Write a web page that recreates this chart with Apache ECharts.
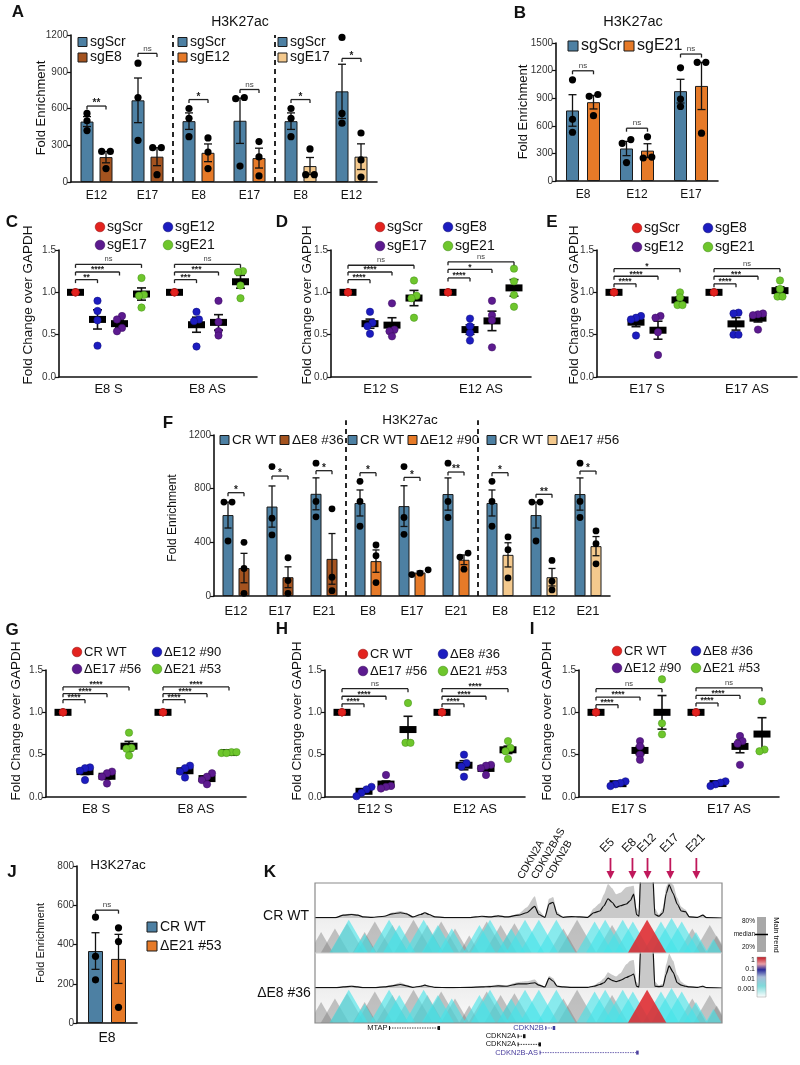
<!DOCTYPE html>
<html><head><meta charset="utf-8">
<script src="https://cdn.jsdelivr.net/npm/echarts@6/dist/echarts.min.js"></script>
<style>html,body{margin:0;padding:0;background:#fff}#c{width:800px;height:1065px}</style>
</head><body><div id="c"></div>
<script>
// ===================== DATA =====================
// Panel A
const A_cats = ['E12','E17','E8','E17','E8','E12'];
const A_yTicks = [0,300,600,900,1200];
const A_sgScr = [[560,500,420],[970,690,340],[600,520,370],[690,680,130],[600,520,370],[1180,560,480]];
const A_sgKO  = [[250,250,110],[280,280,60],[360,245,110],[330,205,50],[270,60,60],[400,180,40]];
const A_sig = ['**','ns','*','ns','*','*'];
const A_sigY = [620,1050,673,755,673,1009];
const A_koNames = ['sgE8','sgE12','sgE17'];
// Panel B
const B_cats = ['E8','E12','E17'];
const B_yTicks = [0,300,600,900,1200,1500];
const B_sgScr = [[1100,670,530],[450,410,200],[1230,890,810]];
const B_sgE21 = [[940,920,710],[480,260,250],[1290,1290,520]];
const B_sig = ['ns','ns','ns'];
const B_sigY = [1198,574,1380];
// Dot plots common
const DOT_yTicks = [0,0.5,1.0,1.5];
// Panel C
const C_cats = ['E8 S','E8 AS'];
const C_names = ['sgScr','sgE12','sgE17','sgE21'];
const C_sgScr = [[1,1,1,1],[1,1,1,1]];
const C_sgE12 = [[0.90,0.78,0.67,0.37],[0.77,0.68,0.66,0.36]];
const C_sgE17 = [[0.72,0.68,0.58,0.54],[0.90,0.65,0.54,0.49]];
const C_sgE21 = [[1.17,0.97,0.96,0.82],[1.25,1.24,1.08,0.93]];
const C_sig = [['**','****','ns'],['***','***','ns']];
const C_sigY = [[1.15,1.24,1.33],[1.15,1.24,1.33]];
// Panel D
const D_cats = ['E12 S','E12 AS'];
const D_names = ['sgScr','sgE8','sgE17','sgE21'];
const D_sgScr = [[1,1,1,1],[1,1,1,1]];
const D_sgE8  = [[0.77,0.64,0.60,0.51],[0.69,0.60,0.52,0.43]];
const D_sgE17 = [[0.87,0.56,0.54,0.48],[0.90,0.73,0.67,0.35]];
const D_sgE21 = [[1.14,0.96,0.93,0.70],[1.28,1.13,0.97,0.83]];
const D_sig = [['****','****','ns'],['****','*','ns']];
const D_sigY = [[1.15,1.24,1.32],[1.17,1.27,1.36]];
// Panel E
const E_cats = ['E17 S','E17 AS'];
const E_names = ['sgScr','sgE8','sgE12','sgE21'];
const E_sgScr = [[1,1,1,1],[1,1,1,1]];
const E_sgE8  = [[0.72,0.70,0.68,0.49],[0.76,0.75,0.50,0.50]];
const E_sgE12 = [[0.72,0.70,0.53,0.26],[0.75,0.74,0.73,0.56]];
const E_sgE21 = [[1.00,0.94,0.85,0.85],[1.14,1.04,0.95,0.95]];
const E_sig = [['****','****','*'],['****','***','ns']];
const E_sigY = [[1.10,1.19,1.28],[1.10,1.19,1.28]];
// Panel F
const F_cats = ['E12','E17','E21','E8','E17','E21','E8','E12','E21'];
const F_yTicks = [0,400,800,1200];
const F_crWT = [[700,700,410],[965,580,455],[990,705,590],[855,705,520],[965,585,460],[990,705,585],[855,705,520],[700,700,410],[990,705,585]];
const F_del  = [[400,205,20],[285,115,20],[650,140,40],[380,300,100],[195,170,160],[320,290,200],[440,345,135],[265,110,45],[485,390,240]];
const F_sig = ['*','*','*','*','*','**','*','**','*'];
const F_sigY = [770,894,934,919,884,924,919,758,931];
const F_delNames = ['\u0394E8 #36','\u0394E12 #90','\u0394E17 #56'];
// Panel G
const G_cats = ['E8 S','E8 AS'];
const G_names = ['CR WT','\u0394E12 #90','\u0394E17 #56','\u0394E21 #53'];
const G_crWT = [[1,1,1,1],[1,1,1,1]];
const G_dE12 = [[0.35,0.34,0.31,0.20],[0.37,0.34,0.30,0.23]];
const G_dE17 = [[0.30,0.28,0.24,0.16],[0.28,0.24,0.20,0.15]];
const G_dE21 = [[0.76,0.58,0.57,0.49],[0.53,0.53,0.52,0.52]];
const G_sig = [['****','****','****'],['****','****','****']];
const G_sigY = [[1.15,1.22,1.30],[1.15,1.22,1.30]];
// Panel H
const H_cats = ['E12 S','E12 AS'];
const H_names = ['CR WT','\u0394E8 #36','\u0394E17 #56','\u0394E21 #53'];
const H_crWT = [[1,1,1,1],[1,1,1,1]];
const H_dE8  = [[0.12,0.09,0.05,0.01],[0.50,0.40,0.36,0.24]];
const H_dE17 = [[0.26,0.13,0.12,0.10],[0.38,0.37,0.34,0.26]];
const H_dE21 = [[1.11,0.64,0.64],[0.66,0.58,0.54,0.45]];
const H_sig = [['****','****','ns'],['****','****','****']];
const H_sigY = [[1.10,1.19,1.28],[1.10,1.19,1.28]];
// Panel I
const I_cats = ['E17 S','E17 AS'];
const I_names = ['CR WT','\u0394E8 #36','\u0394E12 #90','\u0394E21 #53'];
const I_crWT = [[1,1,1,1],[1,1,1,1]];
const I_dE8  = [[0.185,0.165,0.15,0.13],[0.185,0.17,0.15,0.13]];
const I_dE12 = [[0.66,0.60,0.50,0.44],[0.72,0.66,0.63,0.38]];
const I_dE21 = [[1.39,0.87,0.74],[1.13,0.56,0.54]];
const I_sig = [['****','****','ns'],['****','****','ns']];
const I_sigY = [[1.09,1.18,1.28],[1.11,1.20,1.29]];
// Panel J
const J_cats = ['E8'];
const J_yTicks = [0,200,400,600,800];
const J_crWT = [[540,340,220]];
const J_dE21 = [[485,415,80]];
const J_sig = ['ns'];
const J_sigY = [575];
// Panel K (x in % of locus window, signal in fraction of track height)
const K_pos = [0,5,7,9,10.5,12,14,17,19,21,22.5,24,26,27,28,29.5,33,38,41,43,45,47,50,52,54,55,56.5,57.5,58.5,59.5,61,63,65,67,68.5,70,71,72,73,74,75,76.5,77.5,78.3,79,79.6,80,83,83.5,84.5,85.5,86.3,87,88,89,90,91,92,94,95.3,96.2,100];
const K_wtLine = [0.01,0.01,0.08,0.10,0.08, 0.03,0.02,0.05,0.12,0.15, 0.12,0.03,0.10,0.15,0.10, 0.03,0.01,0.01,0.05,0.03, 0.06,0.03,0.08,0.15,0.33, 0.10,0.02,0.40,0.45,0.10, 0.02,0.04,0.03,0.02,0.15, 0.20,0.35,0.55,0.45,0.30, 0.35,0.40,0.50,0.68,0.10, 0.05,1.20,1.20,0.10,0.05, 0.15,0.70,0.95,0.70,0.40, 0.20,0.18,0.03,0.02,0.08, 0.01,0.00];
const K_wtBand = [0.01,0.01,0.10,0.13,0.10, 0.03,0.02,0.06,0.16,0.20, 0.15,0.04,0.13,0.18,0.12, 0.03,0.01,0.01,0.06,0.04, 0.07,0.04,0.12,0.30,0.62, 0.22,0.04,0.55,0.60,0.18, 0.03,0.05,0.04,0.03,0.28, 0.42,0.68,0.97,0.85,0.68, 0.72,0.88,0.90,0.92,0.28, 0.20,1.30,1.30,0.28,0.10, 0.28,0.90,1.05,0.95,0.58, 0.32,0.24,0.05,0.03,0.10, 0.01,0.00];
const K_deLine = [0.01,0.01,0.03,0.05,0.03, 0.01,0.01,0.03,0.06,0.10, 0.06,0.02,0.05,0.08,0.05, 0.02,0.01,0.02,0.03,0.04, 0.06,0.05,0.12,0.12,0.15, 0.08,0.03,0.28,0.20,0.05, 0.03,0.02,0.02,0.02,0.05, 0.10,0.15,0.28,0.22,0.18, 0.22,0.30,0.35,0.40,0.05, 0.03,1.20,1.20,0.05,0.04, 0.05,0.40,0.63,0.45,0.15, 0.08,0.05,0.03,0.02,0.05, 0.01,0.00];
const K_deBand = [0.01,0.01,0.05,0.07,0.05, 0.02,0.01,0.04,0.09,0.16, 0.09,0.03,0.07,0.11,0.07, 0.03,0.01,0.03,0.05,0.07, 0.09,0.08,0.17,0.19,0.24, 0.12,0.04,0.34,0.28,0.08, 0.04,0.03,0.03,0.03,0.08, 0.18,0.28,0.45,0.38,0.33, 0.42,0.68,0.78,0.80,0.18, 0.08,1.30,1.30,0.18,0.08, 0.12,0.68,0.98,0.78,0.38, 0.18,0.10,0.05,0.03,0.08, 0.01,0.00];
const K_triGrey = [[1.5,0.6],[4.9,0.7],[7.9,0.85],[12.2,0.6],[14.7,0.9],[19,0.8],[24.2,0.95],[27.6,0.8],[31,0.9],[34.4,0.7],[37.9,0.5],[42.2,0.9],[45.6,0.8],[49,0.85],[61,0.7],[64.4,0.95],[73,0.8],[92.7,0.7],[97,0.8],[98.7,0.5]];
const K_triCyan = [[8.3,0.95],[12.2,0.55],[18.2,0.95],[20.7,0.8],[26.7,0.95],[30.2,0.8],[33.6,0.7],[40.4,0.8],[43,0.95],[48.2,0.7],[51.6,0.95],[55,0.95],[59.3,0.95],[68.7,0.9],[71.3,0.95],[75.6,0.95],[78.1,0.9],[85,0.9],[87.6,1],[90.1,0.9],[93.6,0.6],[97.9,0.4]];
const K_triRed = [[81.6,0.95]];
const K_enh = ['E5','E8','E12','E17','E21'];
const K_enhPos = [72.6,78,81.7,87.3,93.7];
const K_topGenes = ['CDKN2A','CDKN2BAS','CDKN2B'];
const K_topGenePos = [51.6,55.0,58.5];
const K_genes = ['MTAP','CDKN2B','CDKN2A','CDKN2A','CDKN2B-AS'];
const K_geneStart = [18.3,56.7,49.9,49.9,55.3];
const K_geneEnd = [30.6,58.9,51.6,55.4,79.4];
const K_geneRow = [0,0,1,2,3];
const K_tracks = ['CR WT','\u0394E8 #36'];

// ===================== STYLE / BUILDERS =====================
const FONT = 'Liberation Sans, Arial, Helvetica, sans-serif';
const BLUE='#4d80a3', BROWN='#a4531f', ORANGE='#e67a28', TAN='#f4c98d';
const DOTC = ['#e3231f','#1c1cc0','#5c1a8f','#6ec62c'];
const DOTS = ['#9a1212','#10107a','#3a0c60','#449018'];
const K_geneColors = ['#111','#3b3b9e','#111','#111','#4b3f9e'];
const grids=[], xAxes=[], yAxes=[], series=[], graphics=[];

function mean(a){return a.reduce((s,v)=>s+v,0)/a.length;}
function sem(a){const m=mean(a),n=a.length;if(n<2)return 0;return Math.sqrt(a.reduce((s,x)=>s+(x-m)*(x-m),0)/(n-1)/n);}
function jitter(a,thr,dx){
  const out=a.map(()=>0);
  if(a.every(v=>v===a[0])) return out;
  const idx=a.map((v,i)=>i).sort((i,j)=>a[i]-a[j]);
  let grp=[idx[0]];
  const flush=()=>{const m=grp.length;grp.forEach((ii,k)=>{out[ii]=(k-(m-1)/2)*dx;});};
  for(let k=1;k<idx.length;k++){
    if(Math.abs(a[idx[k]]-a[grp[grp.length-1]])<thr) grp.push(idx[k]); else {flush();grp=[idx[k]];}
  }
  flush(); return out;
}
function addCoord(rect,xa,ya){const gi=grids.length;grids.push(rect);xa.gridIndex=gi;ya.gridIndex=gi;xAxes.push(xa);yAxes.push(ya);return gi;}
function catAxis(cats,fs,margin){return {type:'category',data:cats,boundaryGap:true,
  axisLine:{lineStyle:{color:'#111',width:1.6}},axisTick:{alignWithLabel:true,length:5,lineStyle:{color:'#111',width:1.6}},
  axisLabel:{color:'#111',fontSize:fs,fontFamily:FONT,margin:margin,interval:0},splitLine:{show:false}};}
function valAxis(ticks,fs,fmt){return {type:'value',min:ticks[0],max:ticks[ticks.length-1],interval:ticks[1]-ticks[0],
  axisLine:{show:true,lineStyle:{color:'#111',width:1.6}},axisTick:{show:true,length:4,lineStyle:{color:'#111',width:1.2}},
  axisLabel:{color:'#333',fontSize:fs,fontFamily:FONT,margin:3,formatter:fmt||(v=>String(v))},splitLine:{show:false}};}
function txt(x,y,text,o){o=o||{};graphics.push({type:'text',x:x,y:y,rotation:o.rot||0,z:50,
  style:{text:text,fontSize:o.fs||13,fontFamily:FONT,fontWeight:o.fw||'normal',fill:o.fill||'#111',align:o.align||'center',verticalAlign:o.va||'middle'}});}
function sqLegend(x,y,color,text,fs,sz){sz=sz||10;graphics.push({type:'rect',z:50,shape:{x:x,y:y-sz/2,width:sz,height:sz},style:{fill:color,stroke:'#1a1a1a',lineWidth:1}});
  txt(x+sz+3,y,text,{fs:fs,align:'left'});}
function dotLegend(x,y,s,text,fs){graphics.push({type:'circle',z:50,shape:{cx:x,cy:y,r:4.8},style:{fill:DOTC[s],stroke:DOTS[s],lineWidth:0.6}});
  txt(x+7,y,text,{fs:fs,align:'left'});}
function bracketEls(xa,xb,py,label,fsStar,fsNs){
  return [
    {type:'line',shape:{x1:xa,y1:py,x2:xb,y2:py},style:{stroke:'#222',lineWidth:1.3}},
    {type:'line',shape:{x1:xa,y1:py,x2:xa,y2:py+3.5},style:{stroke:'#222',lineWidth:1.3}},
    {type:'line',shape:{x1:xb,y1:py,x2:xb,y2:py+3.5},style:{stroke:'#222',lineWidth:1.3}},
    {type:'text',x:(xa+xb)/2,y:label==='ns'?py-1:py+2.5,style:{text:label,fontSize:label==='ns'?fsNs:fsStar,fontWeight:label==='ns'?'normal':'bold',fontFamily:FONT,fill:label==='ns'?'#444':'#222',align:'center',verticalAlign:'bottom'}}
  ];
}

function barPanel(cfg){
  const gi=addCoord(cfg.grid,catAxis(cfg.cats,cfg.xfs,cfg.xmargin),valAxis(cfg.ticks,cfg.yfs));
  const half=(cfg.barW+cfg.gap)/2, ymax=cfg.ticks[cfg.ticks.length-1];
  series.push({type:'bar',name:cfg.n0,xAxisIndex:gi,yAxisIndex:gi,data:cfg.p0.map(mean),barWidth:cfg.barW,
    barGap:(cfg.gap/cfg.barW*100)+'%',itemStyle:{color:BLUE,borderColor:'#1a1a1a',borderWidth:1},z:2,silent:true});
  series.push({type:'bar',name:cfg.n1,xAxisIndex:gi,yAxisIndex:gi,data:cfg.p1.map((p,i)=>({value:mean(p),itemStyle:{color:cfg.c1[i]}})),
    barWidth:cfg.barW,itemStyle:{borderColor:'#1a1a1a',borderWidth:1},z:2,silent:true});
  const items=[];[cfg.p0,cfg.p1].forEach((P,s)=>P.forEach((pts,c)=>items.push({c:c,s:s,pts:pts})));
  series.push({type:'custom',xAxisIndex:gi,yAxisIndex:gi,z:5,clip:false,silent:true,data:items.map(it=>[it.c,mean(it.pts)]),
    renderItem:function(p,api){
      const it=items[p.dataIndex],m=mean(it.pts),e=sem(it.pts);
      const cx=api.coord([it.c,0])[0]+(it.s?half:-half);
      const yt=api.coord([it.c,m+e])[1],yb=api.coord([it.c,Math.max(0,m-e)])[1],cap=cfg.cap;
      const ch=[{type:'line',shape:{x1:cx,y1:yt,x2:cx,y2:yb},style:{stroke:'#111',lineWidth:1.3}},
        {type:'line',shape:{x1:cx-cap,y1:yt,x2:cx+cap,y2:yt},style:{stroke:'#111',lineWidth:1.3}},
        {type:'line',shape:{x1:cx-cap,y1:yb,x2:cx+cap,y2:yb},style:{stroke:'#111',lineWidth:1.3}}];
      const offs=jitter(it.pts,ymax*0.035,cfg.dotR*2.4);
      it.pts.forEach((v,k)=>ch.push({type:'circle',shape:{cx:cx+offs[k],cy:api.coord([it.c,v])[1],r:cfg.dotR},style:{fill:'#000'}}));
      return {type:'group',children:ch};
    }});
  series.push({type:'custom',xAxisIndex:gi,yAxisIndex:gi,z:6,clip:false,silent:true,data:cfg.sigY.map((y,c)=>[c,y]),
    renderItem:function(p,api){const c=p.dataIndex,pt=api.coord([c,cfg.sigY[c]]);
      return {type:'group',children:bracketEls(pt[0]-half,pt[0]+half,pt[1],cfg.sig[c],cfg.fsStar,cfg.fsNs)};}});
  if(cfg.seps){
    series.push({type:'custom',xAxisIndex:gi,yAxisIndex:gi,z:6,clip:false,silent:true,data:cfg.seps.map(s=>[s,0]),
      renderItem:function(p,api){const s=cfg.seps[p.dataIndex];
        const x=(api.coord([s,0])[0]+api.coord([s+1,0])[0])/2;
        const y0=api.coord([s,0])[1],y1=api.coord([s,cfg.sepTop])[1];
        return {type:'line',shape:{x1:x,y1:y0,x2:x,y2:y1},style:{stroke:'#111',lineWidth:1.8,lineDash:[5,4]}};}});
  }
  return gi;
}

const OFFS=[-33,-11,11,33];
function dotPanel(cfg){
  const gi=addCoord(cfg.grid,catAxis(cfg.cats,13,6),valAxis(DOT_yTicks,10,v=>v.toFixed(1)));
  const items=[];cfg.subs.forEach((S,s)=>S.forEach((pts,g)=>items.push({g:g,s:s,pts:pts})));
  series.push({type:'custom',xAxisIndex:gi,yAxisIndex:gi,z:3,clip:false,silent:true,data:items.map(it=>[it.g,mean(it.pts)]),
    renderItem:function(p,api){
      const it=items[p.dataIndex],m=mean(it.pts),e=sem(it.pts);
      const cx=api.coord([it.g,0])[0]+OFFS[it.s],cy=api.coord([it.g,m])[1];
      const yt=api.coord([it.g,m+e])[1],yb=api.coord([it.g,m-e])[1];
      return {type:'group',children:[
        {type:'line',shape:{x1:cx,y1:yt,x2:cx,y2:yb},style:{stroke:'#111',lineWidth:1.6}},
        {type:'line',shape:{x1:cx-4.5,y1:yt,x2:cx+4.5,y2:yt},style:{stroke:'#111',lineWidth:1.6}},
        {type:'line',shape:{x1:cx-4.5,y1:yb,x2:cx+4.5,y2:yb},style:{stroke:'#111',lineWidth:1.6}},
        {type:'rect',shape:{x:cx-8.5,y:cy-3.5,width:17,height:7},style:{fill:'#000'}}]};
    }});
  cfg.subs.forEach((S,s)=>{
    const pts=[];S.forEach((arr,g)=>{const o=jitter(arr,0.045,5);arr.forEach((v,k)=>pts.push([g,v,o[k]]));});
    series.push({type:'custom',name:cfg.names[s],xAxisIndex:gi,yAxisIndex:gi,z:4,clip:false,silent:true,data:pts,
      renderItem:function(p,api){const d=pts[p.dataIndex],c=api.coord([d[0],d[1]]);
        return {type:'circle',shape:{cx:c[0]+OFFS[s]+d[2],cy:c[1],r:3.7},style:{fill:DOTC[s],stroke:DOTS[s],lineWidth:0.5}};}});
  });
  const br=[];cfg.sigY.forEach((ys,g)=>ys.forEach((y,k)=>br.push([g,y,k])));
  series.push({type:'custom',xAxisIndex:gi,yAxisIndex:gi,z:6,clip:false,silent:true,data:br,
    renderItem:function(p,api){const d=br[p.dataIndex],pt=api.coord([d[0],d[1]]);
      return {type:'group',children:bracketEls(pt[0]+OFFS[0],pt[0]+OFFS[d[2]+1],pt[1],cfg.sig[d[0]][d[2]],8.5,7.5)};}});
  const L=cfg.leg;
  dotLegend(L[0],L[2],0,cfg.names[0],cfg.lfs);dotLegend(L[1],L[2],1,cfg.names[1],cfg.lfs);
  dotLegend(L[0],L[3],2,cfg.names[2],cfg.lfs);dotLegend(L[1],L[3],3,cfg.names[3],cfg.lfs);
  return gi;
}

// ===================== PANELS =====================
// A
barPanel({grid:{left:71,top:35,width:306,height:147},cats:A_cats,ticks:A_yTicks,p0:A_sgScr,p1:A_sgKO,n0:'sgScr',n1:'sgKO',
  c1:[BROWN,BROWN,ORANGE,ORANGE,TAN,TAN],barW:13,gap:6,cap:4,dotR:3.6,sig:A_sig,sigY:A_sigY,seps:[1,3],sepTop:1200,
  xfs:12,xmargin:8,yfs:10,fsStar:10,fsNs:8});
[[78,BROWN],[178,ORANGE],[278,TAN]].forEach((l,i)=>{sqLegend(l[0],42,BLUE,'sgScr',14,9);sqLegend(l[0],57.5,l[1],A_koNames[i],14,9);});
txt(18,12,'A',{fs:17,fw:'bold'});txt(240,22,'H3K27ac',{fs:14});
txt(41,108,'Fold Enrichment',{fs:13,rot:Math.PI/2});
// B
barPanel({grid:{left:556,top:43,width:162,height:138},cats:B_cats,ticks:B_yTicks,p0:B_sgScr,p1:B_sgE21,n0:'sgScr',n1:'sgE21',
  c1:[ORANGE,ORANGE,ORANGE],barW:13,gap:8,cap:4,dotR:3.6,sig:B_sig,sigY:B_sigY,xfs:12,xmargin:8,yfs:10,fsStar:10,fsNs:8});
sqLegend(568,46,BLUE,'sgScr',16,10);sqLegend(624,46,ORANGE,'sgE21',16,10);
txt(520,13,'B',{fs:17,fw:'bold'});txt(633,22,'H3K27ac',{fs:14.5});
txt(523,112,'Fold Enrichment',{fs:13,rot:Math.PI/2});
// C D E
dotPanel({grid:{left:59,top:250,width:198,height:127},cats:C_cats,names:C_names,subs:[C_sgScr,C_sgE12,C_sgE17,C_sgE21],sig:C_sig,sigY:C_sigY,leg:[100,168,227,245],lfs:14});
dotPanel({grid:{left:331,top:250,width:200,height:127},cats:D_cats,names:D_names,subs:[D_sgScr,D_sgE8,D_sgE17,D_sgE21],sig:D_sig,sigY:D_sigY,leg:[380,448,227,246],lfs:14});
dotPanel({grid:{left:597,top:250,width:200,height:127},cats:E_cats,names:E_names,subs:[E_sgScr,E_sgE8,E_sgE12,E_sgE21],sig:E_sig,sigY:E_sigY,leg:[637,708,228,247],lfs:14});
txt(12,222,'C',{fs:17,fw:'bold'});txt(282,222,'D',{fs:17,fw:'bold'});txt(552,222,'E',{fs:17,fw:'bold'});
txt(28,305,'Fold Change over GAPDH',{fs:13.5,rot:Math.PI/2});
txt(307,305,'Fold Change over GAPDH',{fs:13.5,rot:Math.PI/2});
txt(574,305,'Fold Change over GAPDH',{fs:13.5,rot:Math.PI/2});
// F
barPanel({grid:{left:214,top:435,width:396,height:161},cats:F_cats,ticks:F_yTicks,p0:F_crWT,p1:F_del,n0:'CR WT',n1:'del',
  c1:[BROWN,BROWN,BROWN,ORANGE,ORANGE,ORANGE,TAN,TAN,TAN],barW:11,gap:5,cap:3.5,dotR:3.4,sig:F_sig,sigY:F_sigY,seps:[2,5],sepTop:1310,
  xfs:13,xmargin:9,yfs:10,fsStar:10,fsNs:8});
[[220,280,BROWN],[348,408,ORANGE],[487,548,TAN]].forEach((l,i)=>{sqLegend(l[0],440,BLUE,'CR WT',13.5,9);sqLegend(l[1],440,l[2],F_delNames[i],13.5,9);});
txt(168,423,'F',{fs:17,fw:'bold'});txt(410,420,'H3K27ac',{fs:13.5});
txt(173,518,'Fold Enrichment',{fs:12,rot:Math.PI/2});
// G H I
dotPanel({grid:{left:46,top:670,width:200,height:127},cats:G_cats,names:G_names,subs:[G_crWT,G_dE12,G_dE17,G_dE21],sig:G_sig,sigY:G_sigY,leg:[77,157,652,669],lfs:13});
dotPanel({grid:{left:325,top:670,width:200,height:127},cats:H_cats,names:H_names,subs:[H_crWT,H_dE8,H_dE17,H_dE21],sig:H_sig,sigY:H_sigY,leg:[363,443,654,671],lfs:13});
dotPanel({grid:{left:579,top:670,width:200,height:127},cats:I_cats,names:I_names,subs:[I_crWT,I_dE8,I_dE12,I_dE21],sig:I_sig,sigY:I_sigY,leg:[617,696,651,668],lfs:13});
txt(12,630,'G',{fs:17,fw:'bold'});txt(282,629,'H',{fs:17,fw:'bold'});txt(532,629,'I',{fs:17,fw:'bold'});
txt(16,721,'Fold Change over GAPDH',{fs:13.5,rot:Math.PI/2});
txt(297,721,'Fold Change over GAPDH',{fs:13.5,rot:Math.PI/2});
txt(547,721,'Fold Change over GAPDH',{fs:13.5,rot:Math.PI/2});
// J
barPanel({grid:{left:77,top:866,width:60,height:157},cats:J_cats,ticks:J_yTicks,p0:J_crWT,p1:J_dE21,n0:'CR WT',n1:'\u0394E21 #53',
  c1:[ORANGE],barW:15,gap:8,cap:4,dotR:3.6,sig:J_sig,sigY:J_sigY,xfs:14,xmargin:8,yfs:10,fsStar:10,fsNs:8});
sqLegend(147,927,BLUE,'CR WT',14,10);sqLegend(147,946,ORANGE,'\u0394E21 #53',14,10);
txt(12,872,'J',{fs:17,fw:'bold'});txt(118,865,'H3K27ac',{fs:13.5});
txt(41,943,'Fold Enrichment',{fs:11,rot:Math.PI/2});

// K
function kCoord(top,h){return addCoord({left:315,top:top,width:407,height:h},{type:'value',min:0,max:100,show:false},{type:'value',min:0,max:1,show:false});}
function kSignal(gi,line,band,withLabels){
  series.push({type:'line',xAxisIndex:gi,yAxisIndex:gi,data:K_pos.map((x,i)=>[x,band[i]]),symbol:'none',smooth:0.2,smoothMonotone:'x',
    lineStyle:{width:0},areaStyle:{color:'#c9c9c9',opacity:1},z:2,silent:true,clip:true});
  series.push({type:'line',xAxisIndex:gi,yAxisIndex:gi,data:K_pos.map((x,i)=>[x,line[i]]),symbol:'none',smooth:0.2,smoothMonotone:'x',
    lineStyle:{color:'#111',width:1.2},z:3,silent:true,clip:true});
  if(withLabels){
    series.push({type:'custom',xAxisIndex:gi,yAxisIndex:gi,clip:false,z:10,silent:true,data:K_enhPos.map(x=>[x,0]),
      renderItem:function(p,api){const x=api.coord([K_enhPos[p.dataIndex],0])[0],top=p.coordSys.y;
        return {type:'group',children:[
          {type:'line',shape:{x1:x,y1:top-25,x2:x,y2:top-9},style:{stroke:'#c0185b',lineWidth:1.8}},
          {type:'polygon',shape:{points:[[x-4,top-12],[x+4,top-12],[x,top-4]]},style:{fill:'#c0185b'}},
          {type:'text',x:x-4,y:top-28,rotation:Math.PI/4,style:{text:K_enh[p.dataIndex],fontSize:12,fontFamily:FONT,fill:'#111',align:'left',verticalAlign:'bottom'}}]};}});
    series.push({type:'custom',xAxisIndex:gi,yAxisIndex:gi,clip:false,z:10,silent:true,data:K_topGenePos.map(x=>[x,0]),
      renderItem:function(p,api){const x=api.coord([K_topGenePos[p.dataIndex],0])[0],top=p.coordSys.y;
        return {type:'text',x:x,y:top-2,rotation:Math.PI/3,style:{text:K_topGenes[p.dataIndex],fontSize:10.5,fontFamily:FONT,fill:'#111',align:'left',verticalAlign:'bottom'}};}});
  }
}
function kTri(gi){
  series.push({type:'custom',xAxisIndex:gi,yAxisIndex:gi,clip:true,z:1,silent:true,data:[[0,0]],
    renderItem:function(p,api){const c=p.coordSys;return {type:'rect',shape:{x:c.x,y:c.y,width:c.width,height:c.height},
      style:{fill:{type:'linear',x:0,y:0,x2:0,y2:1,colorStops:[{offset:0,color:'#eeeeee'},{offset:1,color:'#fafafa'}]}}};}});
  const all=[].concat(K_triGrey.map(t=>[t[0],t[1],0]),K_triCyan.map(t=>[t[0],t[1],1]),K_triRed.map(t=>[t[0],t[1],2]));
  const cols=['rgba(120,120,120,0.42)','rgba(70,228,232,0.62)','rgba(222,40,45,0.88)'];
  series.push({type:'custom',xAxisIndex:gi,yAxisIndex:gi,clip:true,z:2,silent:true,data:all,
    renderItem:function(p,api){const c=api.value(0),h=api.value(1),k=api.value(2),hw=5.0*h;
      return {type:'polygon',shape:{points:[api.coord([c-hw,0]),api.coord([c,h]),api.coord([c+hw,0])]},style:{fill:cols[k]}};}});
}
const k1=kCoord(883,35),k2=kCoord(918,35),k3=kCoord(953,35),k4=kCoord(988,35),k5=kCoord(1023,40);
kSignal(k1,K_wtLine,K_wtBand,true);kTri(k2);kSignal(k3,K_deLine,K_deBand,false);kTri(k4);
series.push({type:'custom',xAxisIndex:k5,yAxisIndex:k5,clip:false,z:5,silent:true,data:K_geneStart.map(s=>[s,0]),
  renderItem:function(p,api){const i=p.dataIndex,xs=api.coord([K_geneStart[i],0])[0],xe=api.coord([K_geneEnd[i],0])[0];
    const y=p.coordSys.y+5+K_geneRow[i]*8.2,col=K_geneColors[i];const ch=[
      {type:'line',shape:{x1:xs,y1:y,x2:xe,y2:y},style:{stroke:col,lineWidth:0.8,lineDash:[1.5,1]}},
      {type:'line',shape:{x1:xs,y1:y-2,x2:xs,y2:y+2},style:{stroke:col,lineWidth:1}},
      {type:'rect',shape:{x:xe-2,y:y-2,width:2.5,height:4},style:{fill:col}},
      {type:'text',x:xs-2,y:y,style:{text:K_genes[i],fontSize:7.5,fontFamily:FONT,fill:col,align:'right',verticalAlign:'middle'}}];
    return {type:'group',children:ch};}});
graphics.push({type:'rect',z:60,shape:{x:315,y:883,width:407,height:140},style:{fill:'none',stroke:'#8a8a8a',lineWidth:1.2}});
graphics.push({type:'line',z:60,shape:{x1:315,y1:953,x2:722,y2:953},style:{stroke:'#d0d0d0',lineWidth:1}});
txt(270,872,'K',{fs:17,fw:'bold'});
txt(286,916,K_tracks[0],{fs:14});txt(284,993,K_tracks[1],{fs:14});
// K legend
graphics.push({type:'rect',z:50,shape:{x:757,y:917,width:9,height:35},style:{fill:'#a8a8a8'}});
graphics.push({type:'line',z:51,shape:{x1:755,y1:934.5,x2:768,y2:934.5},style:{stroke:'#000',lineWidth:1.5}});
txt(755,921,'80%',{fs:6.5,align:'right'});txt(755,934,'median',{fs:6.5,align:'right'});txt(755,947,'20%',{fs:6.5,align:'right'});
txt(776,935,'Main trend',{fs:7.5,rot:-Math.PI/2});
graphics.push({type:'rect',z:50,shape:{x:757,y:957,width:9,height:40},style:{stroke:'#999',lineWidth:0.5,fill:{type:'linear',x:0,y:0,x2:0,y2:1,
  colorStops:[{offset:0,color:'#c0141c'},{offset:0.18,color:'#e9a0a8'},{offset:0.32,color:'#2b2b9a'},{offset:0.5,color:'#a8bcd8'},{offset:0.72,color:'#7fdada'},{offset:1,color:'#ffffff'}]}}});
txt(755,960,'1',{fs:7,align:'right'});txt(755,969,'0.1',{fs:7,align:'right'});txt(755,979,'0.01',{fs:7,align:'right'});txt(755,989,'0.001',{fs:7,align:'right'});

const chart=echarts.init(document.getElementById('c'),null,{renderer:'canvas'});
chart.setOption({animation:false,backgroundColor:'#fff',textStyle:{fontFamily:FONT},grid:grids,xAxis:xAxes,yAxis:yAxes,series:series,graphic:{elements:graphics}});
</script></body></html>
